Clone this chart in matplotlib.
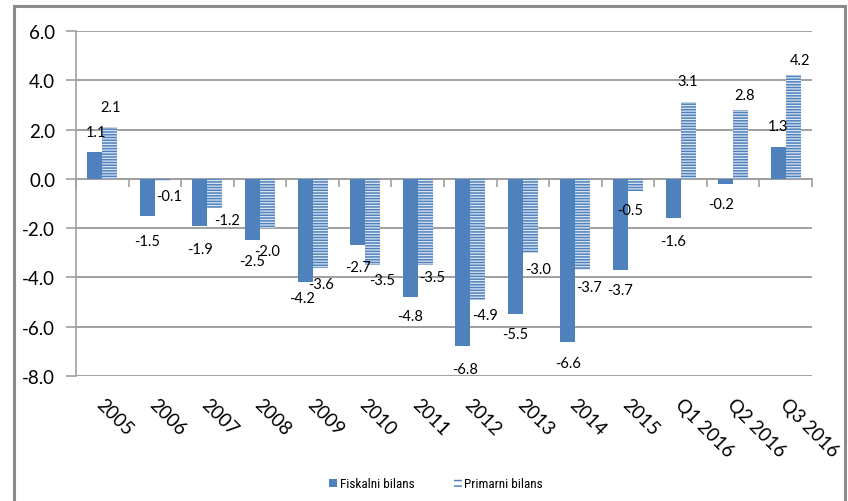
import matplotlib
matplotlib.use("Agg")
import matplotlib.pyplot as plt
from matplotlib.patches import Patch, Rectangle
from matplotlib import font_manager
import numpy as np

plt.rcParams['font.family'] = ['Lato', 'DejaVu Sans']
plt.rcParams['hatch.linewidth'] = 1.1

categories = ["2005", "2006", "2007", "2008", "2009", "2010", "2011", "2012",
              "2013", "2014", "2015", "Q1 2016", "Q2 2016", "Q3 2016"]
fiskalni = [1.1, -1.5, -1.9, -2.5, -4.2, -2.7, -4.8, -6.8, -5.5, -6.6, -3.7, -1.6, -0.2, 1.3]
primarni = [2.1, -0.1, -1.2, -2.0, -3.6, -3.5, -3.5, -4.9, -3.0, -3.7, -0.5, 3.1, 2.8, 4.2]
yticks = [6.0, 4.0, 2.0, 0.0, -2.0, -4.0, -6.0, -8.0]

# label nudges in pixels (dx, dy) relative to each bar's end
fis_off = [(1, 20), (0, -25), (0, -23), (0, -21), (-3, -16), (0, -22), (0, -19),
           (2, -23), (0, -20), (0, -22), (0, -20), (0, -23), (-5, -20), (0, 21)]
pri_off = [(1, 20), (7, -15), (12, -12), (0, -23), (1, -16), (9, -15), (7, -12),
           (7, -15), (8, -16), (6, -17), (-5, -19), (0, 21), (4, 15), (7, 15)]

blue = '#4F81BD'
grid_c = '#A0A0A0'

# a narrow face for the legend if one is available
installed = {f.name for f in font_manager.fontManager.ttflist}
legend_family = 'Lato'
for cand in ['Liberation Sans Narrow', 'DejaVu Sans Condensed', 'Roboto Condensed']:
    if cand in installed:
        legend_family = cand
        break

fig = plt.figure(figsize=(8.48, 5.02), dpi=100)
ax = fig.add_axes([76 / 848, 1 - 377 / 502, (812 - 76) / 848, (377 - 32) / 502])

x = np.arange(len(categories))
w = 0.285
ax.bar(x - w / 2, fiskalni, w, color=blue, linewidth=0, zorder=3)
ax.bar(x + w / 2, primarni, w, facecolor='#DCE6F2', edgecolor=blue,
       hatch='------', linewidth=0, zorder=3)

ax.set_xlim(-0.5, len(categories) - 0.5)
ax.set_ylim(-8, 6)
ax.set_yticks(yticks)
ax.set_yticklabels([f"{v:.1f}" for v in yticks], fontsize=13.5)
ax.yaxis.grid(True, color=grid_c, linewidth=1.4, zorder=0)
ax.tick_params(axis='y', length=7, width=1.2, color=grid_c, pad=8)

for s in ['top', 'right']:
    ax.spines[s].set_visible(False)
ax.spines['left'].set_color(grid_c)
ax.spines['left'].set_linewidth(1.2)
ax.spines['bottom'].set_position(('data', 0))
ax.spines['bottom'].set_color(grid_c)
ax.spines['bottom'].set_linewidth(1.2)
ax.set_xticks(np.arange(len(categories) + 1) - 0.5)
ax.set_xticklabels([])
ax.tick_params(axis='x', length=6, width=1.2, color=grid_c, direction='out')

for i, c in enumerate(categories):
    ax.annotate(c, xy=(i, 0), xycoords=('data', 'axes fraction'),
                xytext=(3, -19), textcoords='offset pixels',
                rotation=-45, rotation_mode='anchor', ha='left', va='top',
                fontsize=13.5)

for vals, offs, xs in [(fiskalni, fis_off, x - w / 2), (primarni, pri_off, x + w / 2)]:
    for xi, v, (dx, dy) in zip(xs, vals, offs):
        ax.annotate(f"{v:.1f}", xy=(xi, v), xytext=(dx, dy), textcoords='offset pixels',
                    ha='center', va='center', fontsize=10.5, zorder=5)

handles = [Patch(facecolor=blue, linewidth=0),
           Patch(facecolor='white', edgecolor=blue, hatch='---', linewidth=0)]
legend_size = 9.5 if legend_family != 'Lato' else 8.5
fig.legend(handles, ["Fiskalni bilans", "Primarni bilans"], loc='center',
           bbox_to_anchor=(436 / 848, 1 - 485 / 502), ncol=2, frameon=False,
           handlelength=0.6, handleheight=0.6, handletextpad=0.2, columnspacing=3.0,
           prop={'family': legend_family, 'size': legend_size})

fig.patches.append(Rectangle((14 / 848, -0.3), (845 - 14) / 848, 1.3 - 7 / 502,
                             transform=fig.transFigure, fill=False, clip_on=False,
                             edgecolor='#8C8C8C', linewidth=2.2))

fig.savefig('out.png', dpi=100)
